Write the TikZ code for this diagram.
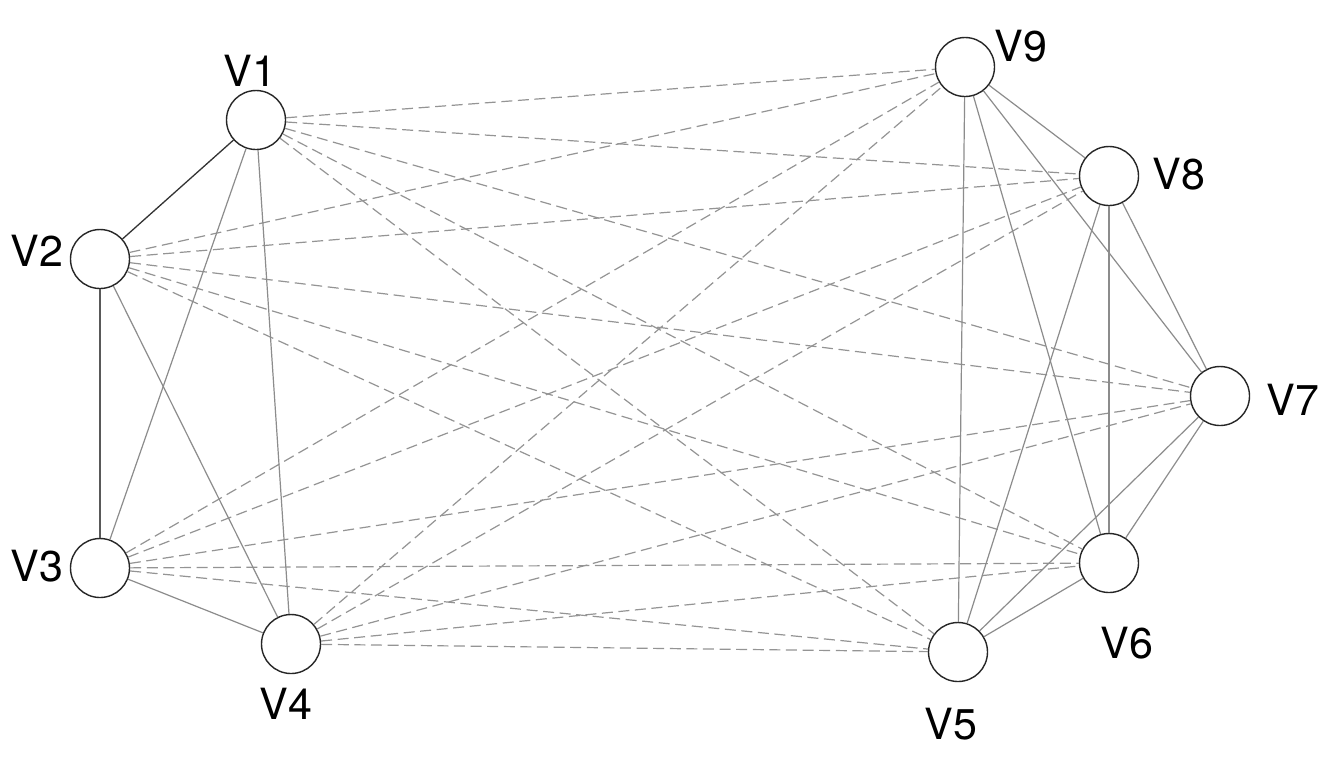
\documentclass[tikz,border=0pt]{standalone}
\usepackage{fontspec}
\setmainfont{TeX Gyre Heros}
\begin{document}
\begin{tikzpicture}[x=0.5pt,y=-0.5pt,
    vertex/.style={circle,draw=black!85,line width=0.7pt,fill=white,minimum size=29.5pt,inner sep=0pt},
    vlabel/.style={font=\fontsize{21.5}{24}\selectfont,inner sep=0pt},
    inner/.style={draw=black!45,line width=0.6pt},
    cross/.style={draw=black!42,line width=0.6pt,dash pattern=on 5.5pt off 2.8pt}]
                \useasboundingbox[fill=white] (0,0) rectangle (1333,768);
                \node[vertex] (v1) at (256,120) {};
                \node[vertex] (v2) at (100,259) {};
                \node[vertex] (v3) at (100,568) {};
                \node[vertex] (v4) at (291,644) {};
                \node[vertex] (v5) at (958,652) {};
                \node[vertex] (v6) at (1109,563) {};
                \node[vertex] (v7) at (1220,396) {};
                \node[vertex] (v8) at (1109,176) {};
                \node[vertex] (v9) at (965,67) {};
                \node[vlabel] (l1) at (250,71) {V1};
                \node[vlabel] (l2) at (37,251) {V2};
                \node[vlabel] (l3) at (37,566) {V3};
                \node[vlabel] (l4) at (286,704) {V4};
                \node[vlabel] (l5) at (951,724) {V5};
                \node[vlabel] (l6) at (1127,643) {V6};
                \node[vlabel] (l7) at (1293,400) {V7};
                \node[vlabel] (l8) at (1179,174) {V8};
                \node[vlabel] (l9) at (1021,46) {V9};
                % dashed edges between the two groups
                \foreach \a in {1,...,4}
                    \foreach \b in {5,...,9}
                        \draw[cross] (v\a) -- (v\b);
                % left group
                \draw[draw=black!80,line width=0.65pt] (v1) -- (v2);
                \draw[draw=black!65,line width=0.6pt] (v2) -- (v3);
                \draw[inner] (v1) -- (v3);
                \draw[inner] (v1) -- (v4);
                \draw[inner] (v2) -- (v4);
                \draw[inner] (v3) -- (v4);
                % right group
                \foreach \a/\b in {5/6,5/7,5/8,5/9,6/7,6/8,6/9,7/8,7/9,8/9}
                    \draw[inner] (v\a) -- (v\b);
            \end{tikzpicture}
\end{document}
